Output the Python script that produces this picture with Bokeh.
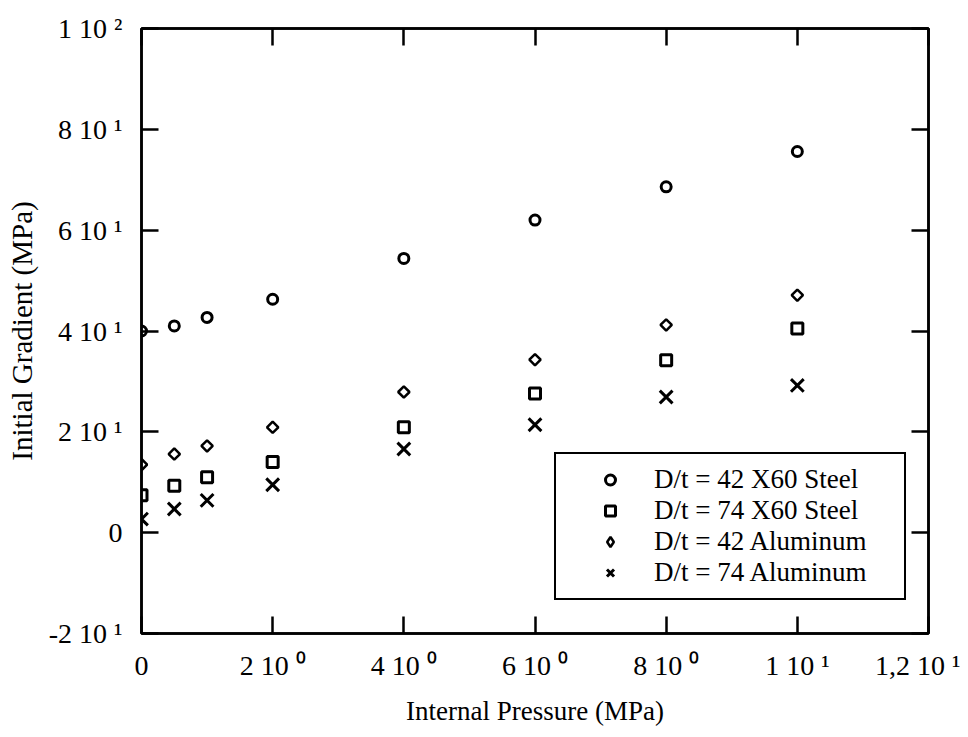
import math
from bokeh.plotting import figure
from bokeh.models import Range1d, LinearAxis, FixedTicker, Legend, LegendItem
from bokeh.embed import file_html
from bokeh.resources import INLINE

# ---- data ----
pressure = [0, 0.5, 1, 2, 4, 6, 8, 10]
steel_42 = [40.0, 41.0, 42.7, 46.3, 54.4, 62.0, 68.6, 75.6]
steel_74 = [7.4, 9.3, 11.0, 14.0, 20.9, 27.6, 34.2, 40.5]
alu_42 = [13.5, 15.6, 17.2, 20.9, 27.9, 34.3, 41.2, 47.1]
alu_74 = [2.7, 4.7, 6.4, 9.5, 16.6, 21.4, 26.9, 29.2]

series_names = ["D/t = 42 X60 Steel", "D/t = 74 X60 Steel",
                "D/t = 42 Aluminum", "D/t = 74 Aluminum"]

x_ticks = [0, 2, 4, 6, 8, 10, 12]
x_tick_labels = ["0", "2 10 \u2070", "4 10 \u2070", "6 10 \u2070", "8 10 \u2070",
                 "1 10 \u00b9", "1,2 10 \u00b9"]
y_ticks = [-20, 0, 20, 40, 60, 80, 100]
y_tick_labels = ["-2 10 \u00b9", "0", "2 10 \u00b9", "4 10 \u00b9", "6 10 \u00b9",
                 "8 10 \u00b9", "1 10 \u00b2"]

FONT = "Liberation Serif"

p = figure(width=960, height=729, output_backend="svg", toolbar_location=None,
           x_range=Range1d(0, 12), y_range=Range1d(-20, 100),
           min_border_left=141, min_border_right=32, min_border_top=28, min_border_bottom=96,
           x_axis_label="Internal Pressure (MPa)", y_axis_label="Initial Gradient (MPa)")
p.grid.visible = False
p.outline_line_color = "black"
p.outline_line_width = 2.5
p.outline_line_alpha = 1
p.background_fill_color = "white"
p.border_fill_color = "white"

def style_axis(ax, ticks, labels, show):
    ax.ticker = FixedTicker(ticks=ticks)
    ax.major_label_overrides = {t: (l if show else "") for t, l in zip(ticks, labels)}
    ax.major_tick_in = 17
    ax.major_tick_out = 0
    ax.minor_tick_in = 0
    ax.minor_tick_out = 0
    ax.major_tick_line_width = 2.5
    ax.axis_line_width = 2.5
    ax.axis_line_color = "black"
    ax.major_tick_line_color = "black"
    ax.major_label_text_font = FONT
    ax.major_label_text_font_size = "28px"
    ax.major_label_text_color = "black"
    ax.axis_label_text_font = FONT
    ax.axis_label_text_font_size = "27px"
    ax.axis_label_text_font_style = "normal"
    ax.axis_label_text_color = "black"

style_axis(p.xaxis[0], x_ticks, x_tick_labels, True)
style_axis(p.yaxis[0], y_ticks, y_tick_labels, True)
p.xaxis[0].major_label_standoff = 16
p.xaxis[0].axis_label_standoff = 12
p.yaxis[0].major_label_standoff = 19
p.yaxis[0].axis_label_standoff = 8
p.yaxis[0].axis_label_text_font_size = "29px"

top_ax = LinearAxis()
style_axis(top_ax, x_ticks, x_tick_labels, False)
top_ax.major_label_standoff = 0
p.add_layout(top_ax, "above")
right_ax = LinearAxis()
style_axis(right_ax, y_ticks, y_tick_labels, False)
right_ax.major_label_standoff = 0
p.add_layout(right_ax, "right")

r1 = p.scatter(pressure, steel_42, marker="circle", size=10, line_color="black",
               line_width=3, fill_color=None)
r2 = p.scatter(pressure, steel_74, marker="square", size=11, line_color="black",
               line_width=3, fill_color=None)
r3 = p.scatter(pressure, alu_42, marker="square", angle=math.pi / 4, size=8,
               line_color="black", line_width=2.5, fill_color=None)
# hidden twin used only for the legend key (legend keys ignore marker angle)
r3_key = p.scatter(pressure, alu_42, marker="diamond", size=12, line_color="black",
                   line_width=2.5, fill_color=None, visible=False)
r4 = p.scatter(pressure, alu_74, marker="x", size=18, line_color="black",
               line_width=3)

legend = Legend(items=[LegendItem(label=series_names[0], renderers=[r1]),
                       LegendItem(label=series_names[1], renderers=[r2]),
                       LegendItem(label=series_names[2], renderers=[r3_key]),
                       LegendItem(label=series_names[3], renderers=[r4])],
                location=(413, 33))
legend.border_line_color = "black"
legend.border_line_width = 2.5
legend.border_line_alpha = 1
legend.background_fill_color = "white"
legend.background_fill_alpha = 1
legend.label_text_font = FONT
legend.label_text_font_size = "27px"
legend.label_text_color = "black"
legend.padding = 10
legend.margin = 0
legend.spacing = 0
legend.glyph_width = 88
legend.label_standoff = 0
legend.label_width = 240
legend.label_height = 25
legend.glyph_height = 25
p.add_layout(legend, "center")

open("out.html", "w").write(file_html(p, INLINE))
